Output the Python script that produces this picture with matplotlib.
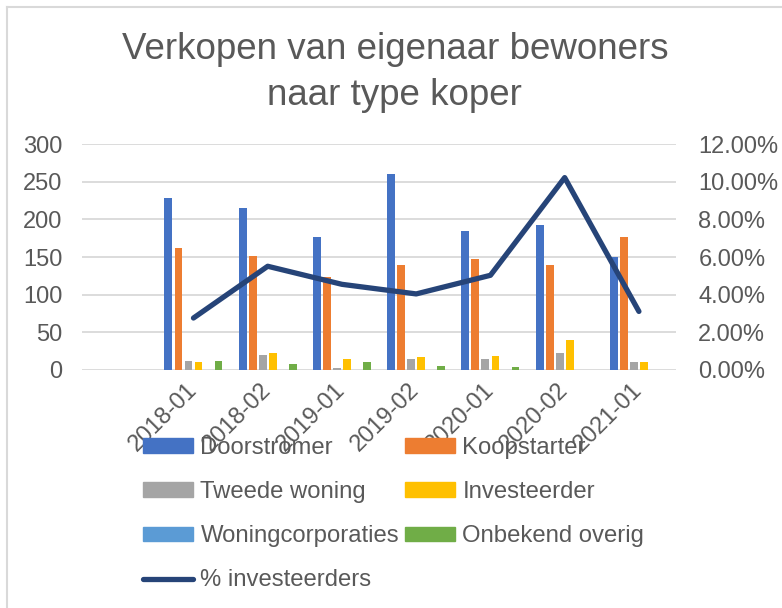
import numpy as np
import matplotlib
matplotlib.use("Agg")
import matplotlib.pyplot as plt
from matplotlib.lines import Line2D
from matplotlib.patches import Patch
from matplotlib.ticker import FuncFormatter

plt.rcParams['font.family'] = ['Liberation Sans', 'DejaVu Sans']

# data (first category is empty)
periods = ['', '2018-01', '2018-02', '2019-01', '2019-02', '2020-01', '2020-02', '2021-01']
doorstromer = [0, 229, 215, 176, 260, 185, 193, 150]
koopstarter = [0, 162, 151, 123, 139, 147, 139, 176]
tweede_woning = [0, 12, 20, 3, 15, 15, 23, 11]
investeerder = [0, 11, 22, 14, 17, 18, 40, 10]
woningcorp = [0, 0, 0, 0, 0, 0, 0, 0]
onbekend = [0, 12, 8, 10, 5, 4, 0, 0]
pct_invest = [2.76, 5.51, 4.55, 4.04, 5.03, 10.22, 3.11]  # percent, from 2018-01 on

series = [doorstromer, koopstarter, tweede_woning, investeerder, woningcorp, onbekend]
names = ['Doorstromer', 'Koopstarter', 'Tweede woning', 'Investeerder',
         'Woningcorporaties', 'Onbekend overig']
colors = ['#4472C4', '#ED7D31', '#A5A5A5', '#FFC000', '#5B9BD5', '#70AD47']
line_col = '#264478'
txt = '#595959'
grid = '#D9D9D9'

fig = plt.figure(figsize=(7.82, 6.08), dpi=100)
ax = fig.add_axes([0.105, 0.3915, 0.7595, 0.3715])

x = np.arange(len(periods))
slot = 0.135
for i, vals in enumerate(series):
   ax.bar(x + (i - 2.5) * slot, vals, width=0.106, color=colors[i], zorder=2)

ax.set_xlim(-0.5, len(periods) - 0.5)
ax.set_ylim(0, 300)
ax.set_yticks(np.arange(0, 301, 50))
ax.yaxis.grid(True, color=grid, linewidth=1.3, zorder=0)
for s in ax.spines.values():
   s.set_visible(False)
ax.tick_params(axis='both', length=0, labelsize=17, labelcolor=txt)
ax.tick_params(axis='y', pad=14)
ax.set_xticks(x)
ax.set_xticklabels(periods, rotation=45, ha='right', va='center', rotation_mode='anchor')
ax.tick_params(axis='x', pad=12)

ax2 = ax.twinx()
ax2.plot(x[1:], np.array(pct_invest) / 100, color=line_col, linewidth=3.8,
         solid_capstyle='round', solid_joinstyle='round', zorder=3)
ax2.set_ylim(0, 0.12)
ax2.set_yticks(np.arange(0, 0.121, 0.02))
ax2.yaxis.set_major_formatter(FuncFormatter(lambda v, p: '%.2f%%' % (v * 100)))
for s in ax2.spines.values():
   s.set_visible(False)
ax2.tick_params(axis='y', length=0, labelsize=17, labelcolor=txt, pad=16)

fig.text(0.505, 0.881, 'Verkopen van eigenaar bewoners\nnaar type koper', ha='center', va='center',
         fontsize=26.5, color=txt, linespacing=1.4)

h = [Patch(color=c) for c in colors]
ln = Line2D([], [], color=line_col, linewidth=3.8, solid_capstyle='round')
handles = [h[0], h[2], h[4], ln, h[1], h[3], h[5]]
labels = [names[0], names[2], names[4], '% investeerders', names[1], names[3], names[5]]
leg = fig.legend(handles, labels, ncol=2, loc='upper left', bbox_to_anchor=(0.183, 0.2815),
                 frameon=False, fontsize=17.2, handlelength=2.1, handleheight=0.55,
                 handletextpad=0.3, columnspacing=0.25, labelspacing=0.93,
                 borderpad=0, borderaxespad=0)
for t in leg.get_texts():
   t.set_color(txt)

# chart border (left and top edge)
fig.add_artist(Line2D([7 / 782, 7 / 782], [0, 1 - 7 / 608], color=grid, linewidth=1.5))
fig.add_artist(Line2D([7 / 782, 1], [1 - 7 / 608, 1 - 7 / 608], color=grid, linewidth=1.5))

fig.savefig('out.png', dpi=100)
